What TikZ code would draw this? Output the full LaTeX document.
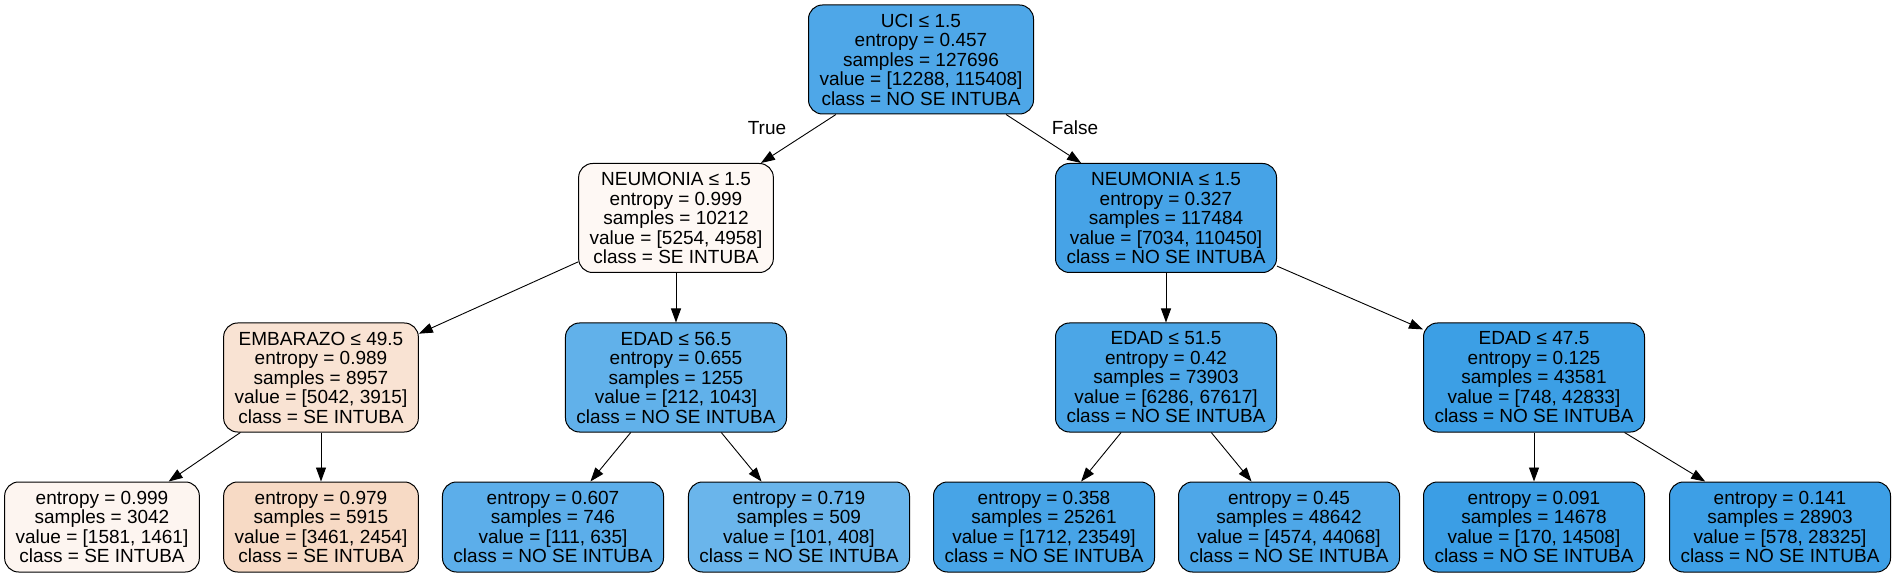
\documentclass[tikz,border=0pt]{standalone}
\usepackage{fontspec}
\setmainfont{Liberation Sans}
\usepackage{tikz}
\usetikzlibrary{arrows.meta}

\definecolor{c0}{RGB}{78,167,232}
\definecolor{c1}{RGB}{254,248,244}
\definecolor{c2}{RGB}{70,163,231}
\definecolor{c3}{RGB}{249,227,211}
\definecolor{c4}{RGB}{97,177,234}
\definecolor{c5}{RGB}{75,166,231}
\definecolor{c6}{RGB}{60,159,229}
\definecolor{c7}{RGB}{253,245,240}
\definecolor{c8}{RGB}{247,218,197}
\definecolor{c9}{RGB}{92,174,234}
\definecolor{c10}{RGB}{106,181,235}
\definecolor{c11}{RGB}{71,164,231}
\definecolor{c12}{RGB}{78,167,232}
\definecolor{c13}{RGB}{59,158,229}
\definecolor{c14}{RGB}{61,159,230}

\tikzset{
	box/.style = {draw, rounded corners=14pt, align=center, inner xsep=11pt, inner ysep=0pt,
		font=\fontsize{19}{19.5}\selectfont, line width=1pt},
	split/.style = {box, minimum height=109pt},
	leaf/.style = {box, minimum height=90pt},
	arr/.style = {-{Triangle[length=14pt,width=10pt]}, line width=0.9pt},
	lbl/.style = {font=\fontsize{19}{19.5}\selectfont}
}

\begin{document}
\begin{tikzpicture}[x=1pt,y=-1pt]
			\useasboundingbox (0,0) rectangle (1896,577);
			% root
			\node[split, fill=c0] (root) at (921,59.5) {UCI ≤ 1.5\\entropy = 0.457\\samples = 127696\\value = [12288, 115408]\\class = NO SE INTUBA};
			% level 1
			\node[split, fill=c1] (neuL) at (676,218) {NEUMONIA ≤ 1.5\\entropy = 0.999\\samples = 10212\\value = [5254, 4958]\\class = SE INTUBA};
			\node[split, fill=c2] (neuR) at (1166,218) {NEUMONIA ≤ 1.5\\entropy = 0.327\\samples = 117484\\value = [7034, 110450]\\class = NO SE INTUBA};
			% level 2
			\node[split, fill=c3] (emb) at (321,377.5) {EMBARAZO ≤ 49.5\\entropy = 0.989\\samples = 8957\\value = [5042, 3915]\\class = SE INTUBA};
			\node[split, fill=c4] (edadA) at (676,377.5) {EDAD ≤ 56.5\\entropy = 0.655\\samples = 1255\\value = [212, 1043]\\class = NO SE INTUBA};
			\node[split, fill=c5] (edadB) at (1166,377.5) {EDAD ≤ 51.5\\entropy = 0.42\\samples = 73903\\value = [6286, 67617]\\class = NO SE INTUBA};
			\node[split, fill=c6] (edadC) at (1534,377.5) {EDAD ≤ 47.5\\entropy = 0.125\\samples = 43581\\value = [748, 42833]\\class = NO SE INTUBA};
			% leaves
			\node[leaf, fill=c7] (h1) at (102,527) {entropy = 0.999\\samples = 3042\\value = [1581, 1461]\\class = SE INTUBA};
			\node[leaf, fill=c8] (h2) at (321,527) {entropy = 0.979\\samples = 5915\\value = [3461, 2454]\\class = SE INTUBA};
			\node[leaf, fill=c9] (h3) at (553,527) {entropy = 0.607\\samples = 746\\value = [111, 635]\\class = NO SE INTUBA};
			\node[leaf, fill=c10] (h4) at (799,527) {entropy = 0.719\\samples = 509\\value = [101, 408]\\class = NO SE INTUBA};
			\node[leaf, fill=c11] (h5) at (1044,527) {entropy = 0.358\\samples = 25261\\value = [1712, 23549]\\class = NO SE INTUBA};
			\node[leaf, fill=c12] (h6) at (1289,527) {entropy = 0.45\\samples = 48642\\value = [4574, 44068]\\class = NO SE INTUBA};
			\node[leaf, fill=c13] (h7) at (1534,527) {entropy = 0.091\\samples = 14678\\value = [170, 14508]\\class = NO SE INTUBA};
			\node[leaf, fill=c14] (h8) at (1780,527) {entropy = 0.141\\samples = 28903\\value = [578, 28325]\\class = NO SE INTUBA};
			% edges
			\draw[arr] (root) -- (neuL);
			\draw[arr] (root) -- (neuR);
			\node[lbl] (lblTrue) at (767,128) {True};
			\node[lbl] (lblFalse) at (1075,128) {False};
			\draw[arr] (neuL) -- (emb);
			\draw[arr] (neuL) -- (edadA);
			\draw[arr] (neuR) -- (edadB);
			\draw[arr] (neuR) -- (edadC);
			\draw[arr] (emb) -- (h1);
			\draw[arr] (emb) -- (h2);
			\draw[arr] (edadA) -- (h3);
			\draw[arr] (edadA) -- (h4);
			\draw[arr] (edadB) -- (h5);
			\draw[arr] (edadB) -- (h6);
			\draw[arr] (edadC) -- (h7);
			\draw[arr] (edadC) -- (h8);
	\end{tikzpicture}
\end{document}
